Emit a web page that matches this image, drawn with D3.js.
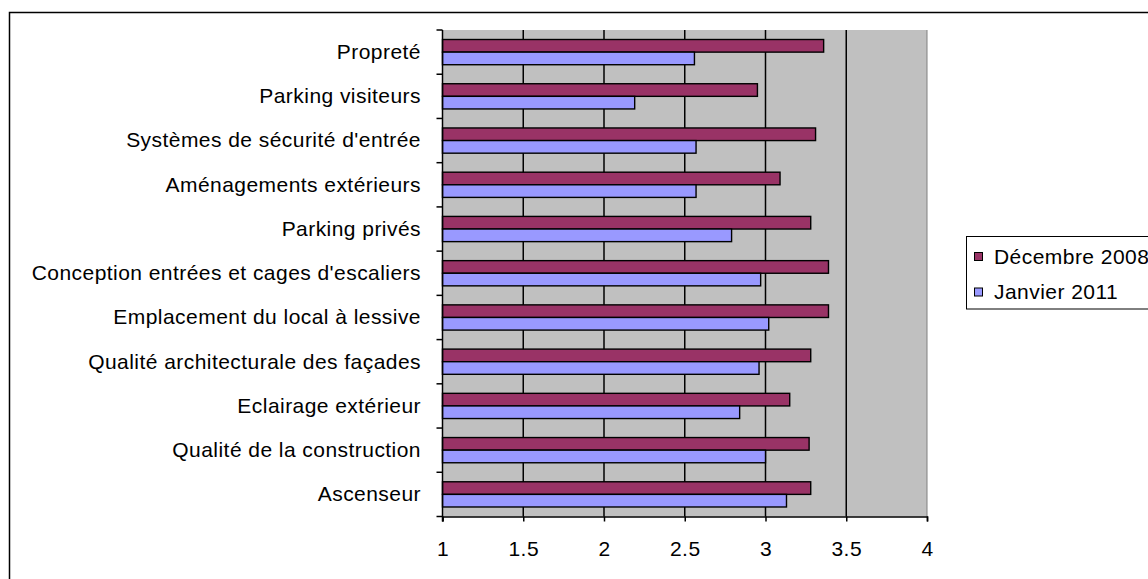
<!DOCTYPE html>
<html>
<head>
<meta charset="utf-8">
<script src="https://cdn.jsdelivr.net/npm/d3@7"></script>
<style>
  body { margin: 0; background: #fff; }
  svg { display: block; font-family: "Liberation Sans", Arial, sans-serif; }
  text { letter-spacing: 0.45px; }
</style>
</head>
<body>
<div id="chart"></div>
<script>
// categories, top to bottom
const categories = [
  "Propreté",
  "Parking visiteurs",
  "Systèmes de sécurité d'entrée",
  "Aménagements extérieurs",
  "Parking privés",
  "Conception entrées et cages d'escaliers",
  "Emplacement du local à lessive",
  "Qualité architecturale des façades",
  "Eclairage extérieur",
  "Qualité de la construction",
  "Ascenseur"
];
const dec2008 = [3.36, 2.95, 3.31, 3.09, 3.28, 3.39, 3.39, 3.28, 3.15, 3.27, 3.28];
const jan2011 = [2.56, 2.19, 2.57, 2.57, 2.79, 2.97, 3.02, 2.96, 2.84, 3.00, 3.13];
const seriesNames = ["Décembre 2008", "Janvier 2011"];
const seriesColors = ["#993366", "#9999FF"];
const xTicks = [1, 1.5, 2, 2.5, 3, 3.5, 4];

const W = 1148, H = 579;
const plot = { left: 442.5, right: 927, top: 30, bottom: 516.5 };
const fontSize = 21;

const svg = d3.select("#chart").append("svg")
  .attr("width", W).attr("height", H);

// outer chart border
svg.append("rect")
  .attr("x", 9.5).attr("y", 12.5)
  .attr("width", W + 20).attr("height", H + 20)
  .attr("fill", "#fff").attr("stroke", "#000").attr("stroke-width", 1.5);

const x = d3.scaleLinear().domain([1, 4]).range([plot.left, plot.right]);
const y = d3.scaleBand().domain(categories).range([plot.top, plot.bottom]).paddingInner(0).paddingOuter(0);

// plot background
svg.append("rect")
  .attr("x", plot.left).attr("y", plot.top)
  .attr("width", plot.right - plot.left).attr("height", plot.bottom - plot.top)
  .attr("fill", "#C0C0C0");

// vertical gridlines
svg.append("g").selectAll("line")
  .data(xTicks.filter(d => d > 1 && d < 4))
  .join("line")
  .attr("x1", d => x(d)).attr("x2", d => x(d))
  .attr("y1", plot.top).attr("y2", plot.bottom)
  .attr("stroke", "#000").attr("stroke-width", 1.5);

svg.append("line")
  .attr("x1", plot.right).attr("x2", plot.right)
  .attr("y1", plot.top).attr("y2", plot.bottom)
  .attr("stroke", "#808080").attr("stroke-width", 1);

// bars
const step = y.bandwidth();
const barH = step * 0.285;
const offset = step * 0.215;
const series = [dec2008, jan2011];

series.forEach((vals, si) => {
  svg.append("g").selectAll("rect")
    .data(categories)
    .join("rect")
    .attr("x", x(1))
    .attr("y", (d) => y(d) + offset + si * barH)
    .attr("width", (d, i) => x(vals[i]) - x(1))
    .attr("height", barH)
    .attr("fill", seriesColors[si])
    .attr("stroke", "#000")
    .attr("stroke-width", 1.4);
});

// x axis
const xAxis = d3.axisBottom(x).tickValues(xTicks).tickSize(5).tickPadding(19.5)
  .tickFormat(d3.format("~g"));
const gx = svg.append("g")
  .attr("transform", `translate(0, ${plot.bottom})`)
  .call(xAxis);
gx.select(".domain").attr("stroke-width", 1.5);
gx.selectAll(".tick line").attr("stroke-width", 1.5);
gx.selectAll("text").attr("font-size", fontSize).attr("fill", "#000")
  .attr("font-family", "Liberation Sans, Arial, sans-serif");

// y axis (ticks at band boundaries)
const gy = svg.append("g");
gy.append("line")
  .attr("x1", plot.left).attr("x2", plot.left)
  .attr("y1", plot.top).attr("y2", plot.bottom + 5)
  .attr("stroke", "#000").attr("stroke-width", 1.5);
gy.selectAll("line.tk")
  .data(d3.range(categories.length + 1))
  .join("line")
  .attr("class", "tk")
  .attr("x1", plot.left - 6).attr("x2", plot.left)
  .attr("y1", i => plot.top + i * step).attr("y2", i => plot.top + i * step)
  .attr("stroke", "#000").attr("stroke-width", 1.5);
gy.selectAll("text")
  .data(categories)
  .join("text")
  .attr("x", 421)
  .attr("y", d => y(d) + step / 2)
  .attr("dy", "0.33em")
  .attr("text-anchor", "end")
  .attr("font-size", fontSize)
  .text(d => d);

// legend
const lg = svg.append("g");
lg.append("rect")
  .attr("x", 966.5).attr("y", 236.5)
  .attr("width", 200).attr("height", 72.5)
  .attr("fill", "#fff").attr("stroke", "#000").attr("stroke-width", 1);
seriesNames.forEach((name, i) => {
  const cy = 256.5 + i * 35.5;
  lg.append("rect")
    .attr("x", 974.5).attr("y", cy - 4)
    .attr("width", 8).attr("height", 8)
    .attr("fill", seriesColors[i]).attr("stroke", "#000");
  lg.append("text")
    .attr("x", 994).attr("y", cy)
    .attr("dy", "0.35em")
    .attr("font-size", fontSize)
    .text(name);
});
</script>
</body>
</html>
